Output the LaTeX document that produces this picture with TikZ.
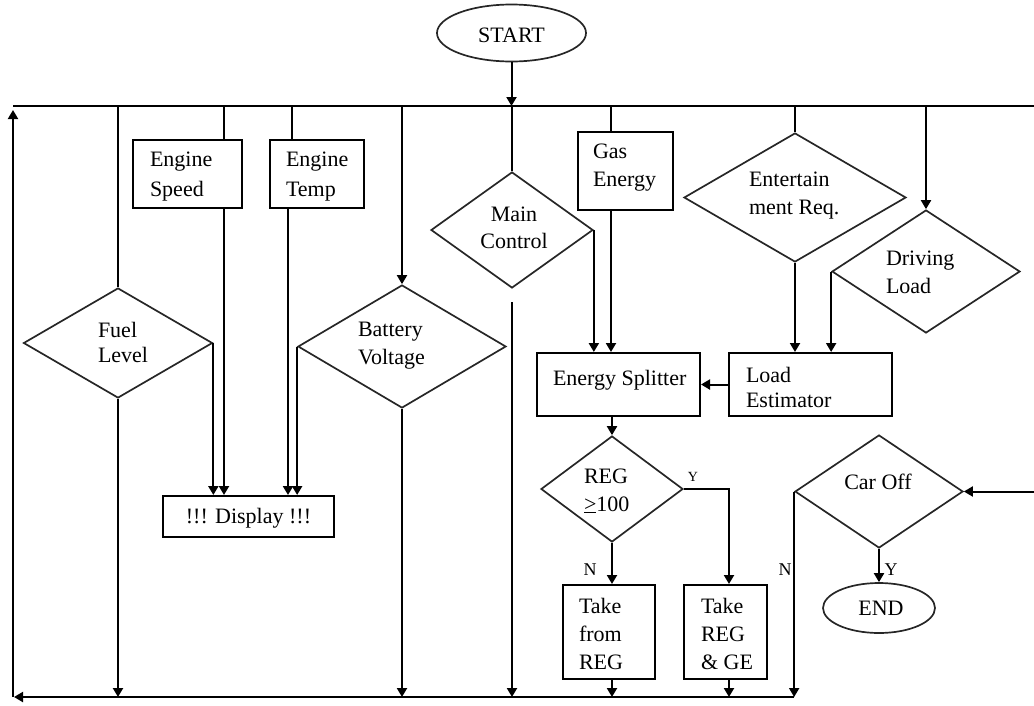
\documentclass[tikz,border=0pt]{standalone}
\usepackage{fontspec}
\setmainfont{Liberation Serif}
\usetikzlibrary{shapes.geometric,arrows.meta}

\begin{document}
\begin{tikzpicture}[x=1pt,y=-1pt,
  line width=2pt,
  >={Triangle[length=9pt,width=10pt]},
  box/.style={draw, rectangle, inner sep=0pt},
  dec/.style={draw, diamond, inner sep=0pt, line width=1.7pt, draw=black!85},
  term/.style={draw, ellipse, inner sep=0pt, line width=1.7pt, draw=black!85},
  txt/.style={inner sep=0pt, align=left, font=\fontsize{22}{28}\selectfont},
  ctxt/.style={txt, align=center},
  lbl/.style={inner sep=0pt, font=\fontsize{18}{20}\selectfont},
]
\useasboundingbox (0,0) rectangle (1034,705);

% ---- shapes ----
\node[term, minimum width=149pt, minimum height=57pt] (start) at (511.5,33) {};
\node[box, minimum width=109pt, minimum height=68pt] (espeed) at (187.5,174) {};
\node[box, minimum width=94pt, minimum height=68pt] (etemp) at (317,174) {};
\node[dec, minimum width=189pt, minimum height=110pt] (fuel) at (118,343) {};
\node[dec, minimum width=208pt, minimum height=123pt] (batt) at (402,346.5) {};
\node[box, minimum width=171pt, minimum height=41pt] (disp) at (248.5,516.5) {};
\node[dec, minimum width=162pt, minimum height=116pt] (main) at (512,230) {};
\node[box, minimum width=95pt, minimum height=78pt] (gas) at (625.5,171) {};
\node[dec, minimum width=222pt, minimum height=129pt] (ent) at (795,197.5) {};
\node[dec, minimum width=188pt, minimum height=123pt] (drive) at (926,271.5) {};
\node[box, minimum width=163pt, minimum height=63pt] (split) at (618.5,384.5) {};
\node[box, minimum width=163pt, minimum height=63pt] (load) at (810.5,384.5) {};
\node[dec, minimum width=142pt, minimum height=106pt] (reg) at (612,489) {};
\node[box, minimum width=92pt, minimum height=94pt] (tfrom) at (609,632) {};
\node[box, minimum width=83pt, minimum height=94pt] (tboth) at (725.5,632) {};
\node[dec, minimum width=168pt, minimum height=113pt] (car) at (879,491.5) {};
\node[term, minimum width=112pt, minimum height=50pt] (endn) at (879,608) {};

% ---- texts ----
\node[txt, anchor=base] (t-start) at (511.5,42) {START};
\node[txt, anchor=west, font=\fontsize{22}{30}\selectfont] (t-espeed) at (149,176.5) {Engine\\Speed};
\node[txt, anchor=west, font=\fontsize{22}{30}\selectfont] (t-etemp) at (285,176.5) {Engine\\Temp};
\node[txt, anchor=west, font=\fontsize{22}{25}\selectfont] (t-fuel) at (97,342.5) {Fuel\\Level};
\node[txt, anchor=west] (t-batt) at (357,345.5) {Battery\\Voltage};
\node[txt, anchor=base] (t-disp) at (248.5,523) {!!! Display !!!};
\node[ctxt, font=\fontsize{22}{27}\selectfont] (t-main) at (514,227.5) {Main\\Control};
\node[txt, anchor=west] (t-gas) at (592,167.5) {Gas\\Energy};
\node[txt, anchor=west] (t-ent) at (748,195.5) {Entertain\\ment Req.};
\node[txt, anchor=west] (t-drive) at (885,272) {Driving\\Load};
\node[txt, anchor=base west] (t-split) at (552,385) {Energy Splitter};
\node[txt, anchor=west, font=\fontsize{22}{25}\selectfont] (t-load) at (745,387) {Load\\Estimator};
\node[txt, anchor=west] (t-reg) at (583,491) {REG\\\underline{>}100};
\node[txt, anchor=west] (t-tfrom) at (578,634) {Take\\from\\REG};
\node[txt, anchor=west] (t-tboth) at (700,634) {Take\\REG\\\& GE};
\node[txt, anchor=base] (t-car) at (878,489) {Car Off};
\node[txt, anchor=base] (t-end) at (881,615) {END};

\node[lbl, font=\fontsize{14}{16}\selectfont] (y-reg) at (693,477) {Y};
\node[lbl] (n-reg) at (590,570) {N};
\node[lbl] (n-car) at (785,570) {N};
\node[lbl] (y-car) at (891,570) {Y};

% ---- bus lines ----
\coordinate (busTL) at (13,106);
\coordinate (busTR) at (1034,106);
\coordinate (busBL) at (13,697);
\coordinate (upTip) at (13,110);
\coordinate (mainlow) at (512,302);
\coordinate (carin) at (1034,491.5);

\draw (busTL) -- (busTR);
\draw[->] (busBL) -- (upTip);
\draw[->] (car.west |- busBL) -- (14,697);
\draw[->] (start.south) -- (start.south |- busTL);

% ---- left half ----
\draw (fuel.north |- busTL) -- (fuel.north);
\draw[->] (fuel.east) -- (fuel.east |- disp.north);
\draw[->] (fuel.south) -- (fuel.south |- busBL);
\draw (224,0 |- busTL) -- (224,0 |- espeed.north);
\draw[->] (224,0 |- espeed.south) -- (224,0 |- disp.north);
\draw (292,0 |- busTL) -- (292,0 |- etemp.north);
\draw[->] (288,0 |- etemp.south) -- (288,0 |- disp.north);
\draw[->] (batt.north |- busTL) -- (batt.north);
\draw[->] (batt.west) -- (batt.west |- disp.north);
\draw[->] (batt.south) -- (batt.south |- busBL);

% ---- control and energy ----
\draw (main.north |- busTL) -- (main.north);
\draw[->] (mainlow) -- (mainlow |- busBL);
\draw[->] (main.east) -- (main.east |- split.north);
\draw (611,0 |- busTL) -- (611,0 |- gas.north);
\draw[->] (611,0 |- gas.south) -- (611,0 |- split.north);
\draw (ent.north |- busTL) -- (ent.north);
\draw[->] (ent.south) -- (ent.south |- load.north);
\draw[->] (drive.north |- busTL) -- (drive.north);
\draw[->] (drive.west) -- (drive.west |- load.north);
\draw[->] (load.west) -- (load.west -| split.east);
\draw[->] (reg.north |- split.south) -- (reg.north);
\draw[->] (reg.east) -- (729,0 |- reg.east) -- (729,0 |- tboth.north);
\draw[->] (reg.south) -- (reg.south |- tfrom.north);
\draw[->] (reg.south |- tfrom.south) -- (reg.south |- busBL);
\draw[->] (729,0 |- tboth.south) -- (729,0 |- busBL);

% ---- shutdown ----
\draw[->] (carin) -- (car.east);
\draw[->] (car.west) -- (car.west |- busBL);
\draw[->] (car.south) -- (endn.north);
\end{tikzpicture}
\end{document}
